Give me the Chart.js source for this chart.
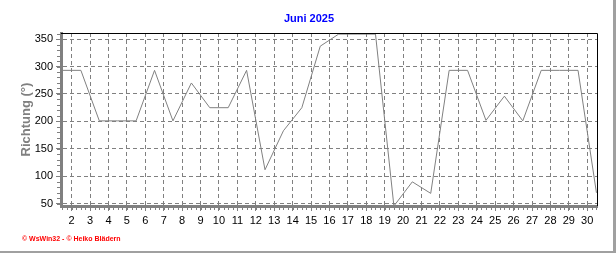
<!DOCTYPE html>
<html>
<head>
<meta charset="utf-8">
<script src="https://cdn.jsdelivr.net/npm/chart.js@4/dist/chart.umd.min.js"></script>
<style>
  html, body { margin: 0; padding: 0; background: #fff; }
  #wrap { width: 616px; height: 253px; }
</style>
</head>
<body>
<div id="wrap"><canvas id="chart" width="616" height="253"></canvas></div>
<script>
// Tageswerte (Mittag), Windrichtung in Grad
const dayPos = [1.5, 2.5, 3.5, 4.5, 5.5, 6.5, 7.5, 8.5, 9.5, 10.5, 11.5, 12.5, 13.5, 14.5, 15.5,
                16.5, 17.5, 18.5, 19.5, 20.5, 21.5, 22.5, 23.5, 24.5, 25.5, 26.5, 27.5, 28.5, 29.5, 30.5];
const richtung = [293, 293, 201, 201, 201, 293, 201, 270, 225, 225, 293, 112, 183, 225, 337,
                  359, 359, 359, 46, 90, 69, 293, 293, 202, 246, 201, 293, 293, 293, 70];
const xTicks = [2, 3, 4, 5, 6, 7, 8, 9, 10, 11, 12, 13, 14, 15, 16, 17, 18, 19, 20, 21, 22, 23, 24, 25, 26, 27, 28, 29, 30];
const yTicks = [50, 100, 150, 200, 250, 300, 350];
const titel = 'Juni 2025';
const yTitel = 'Richtung (°)';
const credit = '© WsWin32 - © Heiko Blädern';

const GRAY = '#808080';
const FONT = '"Liberation Sans", Arial, sans-serif';

// Rahmen oben/rechts, Hilfsstriche, Überschrift und Copyright
const extras = {
    id: 'extras',
    afterDraw(chart) {
        const ctx = chart.ctx;
        const a = chart.chartArea;
        const xs = chart.scales.x;
        const ys = chart.scales.y;
        ctx.save();

        ctx.strokeStyle = '#000';
        ctx.lineWidth = 1;
        ctx.beginPath();
        ctx.moveTo(a.left, a.top + 0.5);
        ctx.lineTo(a.right + 0.5, a.top + 0.5);
        ctx.lineTo(a.right + 0.5, a.bottom);
        ctx.stroke();

        // kleine Striche an den Achsen
        ctx.strokeStyle = GRAY;
        ctx.beginPath();
        for (let v = 50; v <= 360; v += 10) {
            const y = Math.round(ys.getPixelForValue(v)) + 0.5;
            ctx.moveTo(a.left - 4, y);
            ctx.lineTo(a.left - 1, y);
        }
        for (let d = 1.5; d <= 30.5; d += 0.25) {
            const x = Math.round(xs.getPixelForValue(d)) + 0.5;
            ctx.moveTo(x, a.bottom + 1);
            ctx.lineTo(x, a.bottom + 4);
        }
        ctx.stroke();

        ctx.fillStyle = '#0000ff';
        ctx.font = 'bold 11px ' + FONT;
        ctx.textAlign = 'center';
        ctx.textBaseline = 'middle';
        ctx.fillText(titel, 309, 19);

        ctx.fillStyle = '#ff0000';
        ctx.font = 'bold 7px ' + FONT;
        ctx.textAlign = 'left';
        ctx.fillText(credit, 22, 239);

        ctx.fillStyle = '#a0a0a0';
        ctx.fillRect(613, 0, 3, 253);
        ctx.fillRect(0, 251, 616, 2);
        ctx.restore();
    }
};

new Chart(document.getElementById('chart'), {
    type: 'line',
    data: {
        datasets: [{
            data: dayPos.map((d, i) => ({ x: d, y: richtung[i] })),
            borderColor: GRAY,
            borderWidth: 1,
            pointRadius: 0,
            tension: 0,
            fill: false
        }]
    },
    options: {
        responsive: false,
        animation: false,
        devicePixelRatio: 1,
        layout: { padding: { top: 33, right: 19, left: 0, bottom: 0 } },
        plugins: {
            legend: { display: false },
            tooltip: { enabled: false },
            title: { display: false }
        },
        scales: {
            x: {
                type: 'linear',
                min: 1.42,
                max: 30.53,
                afterBuildTicks: s => { s.ticks = xTicks.map(v => ({ value: v })); },
                afterFit: s => { s.height = 47; },
                grid: { color: GRAY, lineWidth: 1, tickLength: 5, tickColor: GRAY },
                border: { display: true, color: GRAY, width: 3, dash: [4, 3] },
                ticks: { color: '#000', font: { family: FONT, size: 11 }, padding: 3, maxRotation: 0, autoSkip: false }
            },
            y: {
                min: 46,
                max: 361,
                afterBuildTicks: s => { s.ticks = yTicks.map(v => ({ value: v })); },
                afterFit: s => { s.width = 61; },
                grid: { color: GRAY, lineWidth: 1, tickLength: 5, tickColor: GRAY },
                border: { display: true, color: GRAY, width: 3, dash: [4, 3] },
                ticks: { color: '#000', font: { family: FONT, size: 11 }, padding: 3 },
                title: {
                    display: true,
                    text: yTitel,
                    color: GRAY,
                    font: { family: FONT, size: 13, weight: 'bold' },
                    padding: { top: 19, bottom: 0 }
                }
            }
        }
    },
    plugins: [extras]
});
</script>
</body>
</html>
